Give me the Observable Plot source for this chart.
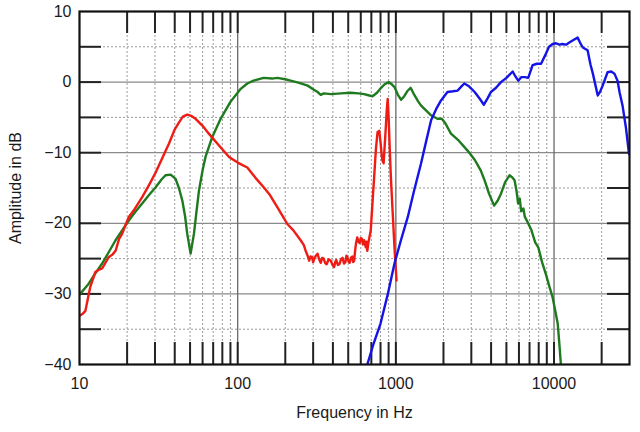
<!DOCTYPE html>
<html><head><meta charset="utf-8">
<script src="https://cdn.jsdelivr.net/npm/d3@7"></script>
<script src="https://cdn.jsdelivr.net/npm/@observablehq/plot@0.6"></script>
<style>body{margin:0;background:#fff}</style>
</head><body><div id="chart"></div>
<script>
// Tick labels / grid positions
const xTicks = [10, 100, 1000, 10000];
const yTicks = [-40, -30, -20, -10, 0, 10];
const decadeHz = [100, 1000, 10000];
const minorHz = [20,30,40,50,60,70,80,90,200,300,400,500,600,700,800,900,2000,3000,4000,5000,6000,7000,8000,9000,20000];
const majorDb = [-30, -20, -10, 0];
const minorDb = [-35, -25, -15, -5, 5];
const edgeTickDb = [-35, -30, -25, -20, -15, -10, -5, 0, 5];

// Red series (woofer)
const redHz = [10,10.5,10.9,11.7,12.6,13.2,13.9,15.3,16.2,16.9,17.8,18.6,19.5,20.5,22,24.9,27.5,30.3,33,36.8,40,42.6,45,48,51,54.2,60,65.7,75,88.2,100,115,130,146,160,178,195,206,225,250,262,270,277,283,289,295,300,305,312,320,327,335,342,350,357,365,376,388,398,407,414,420,430,440,450,460,470,480,487,494,502,510,520,530,537,545,552,560,570,580,590,600,610,620,630,638,645,652,660,670,680,694,712,729,748,766,785,800,815,823,837,850,864,876,888,900,915,930,955,980,1010];
const redDb = [-33.1,-32.8,-32.4,-29.0,-26.9,-26.6,-26.4,-24.8,-24.4,-23.9,-22.2,-21.5,-20.3,-19.1,-18.2,-16.3,-14.6,-12.8,-11.0,-8.7,-6.7,-5.7,-4.9,-4.6,-4.8,-5.2,-6.2,-7.3,-8.8,-10.6,-11.4,-12.1,-13.6,-14.9,-16.0,-17.7,-19.2,-20.1,-21.0,-22.4,-23.1,-24.0,-24.6,-25.3,-24.7,-24.8,-25.5,-25.0,-24.6,-24.3,-25.1,-25.6,-24.9,-25.0,-25.6,-25.8,-25.1,-25.3,-25.9,-26.2,-25.5,-25.2,-25.9,-25.8,-25.1,-24.9,-25.7,-25.5,-24.6,-24.8,-25.4,-25.6,-24.9,-24.7,-25.5,-25.3,-24.0,-22.8,-22.0,-22.6,-22.8,-22.1,-22.2,-23.0,-22.4,-22.9,-23.4,-22.6,-23.9,-22.8,-22.0,-21.0,-17.0,-13.5,-9.5,-7.1,-6.9,-8.5,-10.5,-11.1,-11.5,-9.0,-6.4,-4.0,-2.4,-5.0,-9.5,-13.5,-18.5,-23.4,-28.1];

// Green series (midrange)
const greenHz = [10,11.4,12.5,13.9,15.3,16.9,18.6,20.5,22.5,24.9,27.5,30.3,33,35,37.7,40.5,42.5,44.7,46.5,48,50.4,52.9,54.8,56.9,60,62.6,69,78,90,104,115,126,146,165,178,200,216,245,277,300,320,335,350,388,450,519,580,630,680,712,760,800,850,900,940,980,1030,1080,1130,1180,1240,1300,1380,1440,1550,1670,1830,1950,2050,2230,2500,2840,3150,3440,3650,3880,4180,4400,4620,4900,5230,5450,5630,5800,5930,6070,6200,6400,6540,6800,7200,7600,7950,8400,8880,9300,9800,10200,10550,10800,11050];
const greenDb = [-30.1,-28.6,-27.2,-25.7,-24.1,-22.4,-21.0,-19.6,-18.4,-17.2,-16.0,-14.9,-13.8,-13.2,-13.1,-13.7,-15.0,-16.8,-19.0,-21.5,-24.3,-21.5,-18.5,-15.4,-12.5,-10.6,-7.8,-5.2,-2.8,-1.0,-0.2,0.2,0.6,0.5,0.6,0.4,0.2,-0.1,-0.5,-1.0,-1.4,-1.8,-1.6,-1.7,-1.6,-1.5,-1.6,-1.7,-1.9,-2.0,-1.5,-0.9,-0.3,0.0,-0.3,-0.7,-1.8,-2.5,-2.0,-1.3,-0.8,-1.7,-2.7,-3.3,-4.0,-4.7,-5.2,-5.2,-5.8,-7.3,-8.3,-9.7,-11.0,-12.5,-14.0,-15.8,-17.5,-16.8,-15.8,-14.2,-13.2,-13.5,-13.9,-15.5,-17.2,-16.5,-18.3,-17.9,-19.1,-19.8,-21.0,-22.7,-23.4,-25.5,-27.2,-28.8,-30.5,-32.5,-34.2,-37.0,-40.0];

// Blue series (tweeter)
const blueHz = [660,720,800,890,980,1080,1190,1300,1440,1550,1670,1800,1930,2120,2300,2460,2600,2710,2900,3150,3400,3600,3800,3990,4300,4620,5000,5480,5700,5940,6200,6540,6870,7320,7800,8280,8880,9300,9800,10300,10800,11300,11900,12500,13100,14100,14600,15200,16300,17000,17600,18300,18900,19600,20300,21800,23000,24100,25200,26000,27100,28500,29800];
const blueDb = [-40.0,-37.2,-34.2,-30.0,-25.7,-22.3,-19.1,-15.5,-11.6,-8.5,-5.4,-3.8,-2.6,-1.4,-1.3,-1.2,-0.6,-0.2,-0.6,-1.4,-2.4,-3.2,-2.3,-1.4,-0.8,0.0,0.6,1.5,0.8,0.2,0.7,0.7,0.6,2.4,2.6,2.6,4.0,5.0,5.4,5.5,5.3,5.4,5.3,5.6,5.9,6.3,5.6,4.9,4.5,2.5,1.2,-0.5,-1.9,-1.3,-0.5,1.4,1.5,1.2,0.2,-1.5,-3.3,-6.5,-10.2];

const toRows = (hz, db) => hz.map((f, i) => ({f, db: db[i]}));
const red = toRows(redHz, redDb);
const green = toRows(greenHz, greenDb);
const blue = toRows(blueHz, blueDb);

const plotW = 640, plotH = 432, mL = 79, mR = 11, mT = 11, mB = 68;
const innerW = plotW - mL - mR, innerH = plotH - mT - mB, tickLen = 22;

const chart = Plot.plot({
  width: plotW, height: plotH,
  marginLeft: mL, marginRight: mR, marginTop: mT, marginBottom: mB,
  style: {fontFamily: "'Liberation Sans', Arial, sans-serif", fontSize: "16px", color: "#1a1a1a", background: "#fff", overflow: "visible"},
  x: {type: "log", domain: [10, 30000], ticks: xTicks, tickFormat: d => String(d), tickSize: 0, tickPadding: 13,
      label: "Frequency in Hz", labelAnchor: "center", labelOffset: 53, labelArrow: "none"},
  y: {domain: [-40, 10], ticks: yTicks, tickSize: 0, tickPadding: 8,
      label: "Amplitude in dB", labelAnchor: "center", labelOffset: 70, labelArrow: "none"},
  marks: [
    Plot.ruleY(minorDb, {stroke: "#9a9a9a", strokeDasharray: "2,2"}),
    Plot.ruleX(minorHz, {stroke: "#9a9a9a", strokeDasharray: "2,2"}),
    Plot.ruleY(majorDb, {stroke: "#8a8a8a", strokeWidth: 1.3}),
    Plot.ruleX(decadeHz, {stroke: "#6a6a6a", strokeWidth: 1.3}),
    Plot.tickX(minorHz.concat(decadeHz), {x: d => d, stroke: "#222", strokeWidth: 2, insetBottom: innerH - tickLen}),
    Plot.tickX(minorHz.concat(decadeHz), {x: d => d, stroke: "#222", strokeWidth: 2, insetTop: innerH - tickLen}),
    Plot.tickY(edgeTickDb, {y: d => d, stroke: "#222", strokeWidth: 2, insetRight: innerW - tickLen}),
    Plot.tickY(edgeTickDb, {y: d => d, stroke: "#222", strokeWidth: 2, insetLeft: innerW - tickLen}),
    Plot.line(green, {x: "f", y: "db", stroke: "#1f7a1f", strokeWidth: 2.4, clip: true}),
    Plot.line(red, {x: "f", y: "db", stroke: "#ee1c14", strokeWidth: 2.4, clip: true}),
    Plot.line(blue, {x: "f", y: "db", stroke: "#1414e6", strokeWidth: 2.4, clip: true}),
    Plot.frame({stroke: "#111", strokeWidth: 2.2})
  ]
});
document.getElementById("chart").appendChild(chart);
</script>
</body></html>
